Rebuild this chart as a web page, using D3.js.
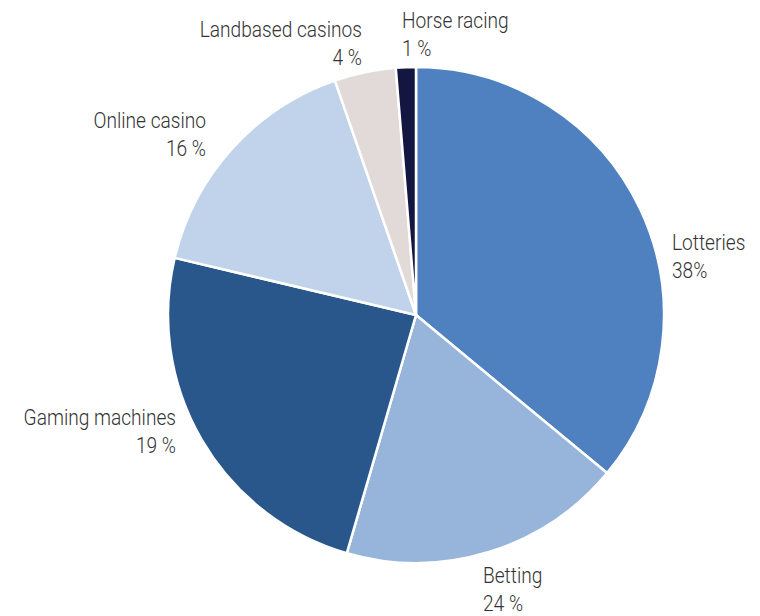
<!DOCTYPE html>
<html>
<head>
<meta charset="utf-8">
<script src="https://cdn.jsdelivr.net/npm/d3@7"></script>
<style>
  body { margin: 0; background: #fff; }
  text { font-family: Roboto, "Noto Sans", sans-serif; font-weight: 300; fill: #333; }
</style>
</head>
<body>
<svg id="chart" width="760" height="616"></svg>
<script>
// Данные (значения по площади секторов, подписи как на исходнике)
const categories = ['Lotteries', 'Betting', 'Gaming machines', 'Online casino', 'Landbased casinos', 'Horse racing'];
const values = [36, 18.5, 24.2, 16, 4, 1.3];
const valueLabels = ['38%', '24 %', '19 %', '16 %', '4 %', '1 %'];
const colors = ['#4f81c1', '#97b4da', '#29568b', '#c0d3ea', '#e2dad8', '#131640'];

// Положение подписей (x, базовая линия первой строки, выравнивание)
const labelLayout = [
    { x: 672, y: 250, anchor: 'start' },
    { x: 483, y: 583, anchor: 'start' },
    { x: 176, y: 425, anchor: 'end' },
    { x: 206, y: 128, anchor: 'end' },
    { x: 362, y: 37, anchor: 'end' },
    { x: 402, y: 28, anchor: 'start' }
];

const cx = 416, cy = 315, radius = 248;
const svg = d3.select('#chart');
const g = svg.append('g').attr('transform', `translate(${cx},${cy})`);

const pie = d3.pie().sort(null).value(d => d.value);
const arc = d3.arc().innerRadius(0).outerRadius(radius);

const data = categories.map((c, i) => ({ name: c, value: values[i], label: valueLabels[i], color: colors[i] }));

g.selectAll('path')
    .data(pie(data))
    .enter()
    .append('path')
    .attr('d', arc)
    .attr('fill', d => d.data.color)
    .attr('stroke', '#fff')
    .attr('stroke-width', 2.5)
    .attr('stroke-linejoin', 'round');

// Подписи (узкий шрифт имитируем сжатием по горизонтали)
const labels = svg.selectAll('.label')
    .data(data)
    .enter()
    .append('text')
    .attr('class', 'label')
    .attr('font-size', 22)
    .attr('transform', (d, i) => `translate(${labelLayout[i].x},${labelLayout[i].y}) scale(0.87,1)`)
    .attr('text-anchor', (d, i) => labelLayout[i].anchor);

labels.append('tspan')
    .attr('x', 0)
    .attr('y', 0)
    .text(d => d.name);

labels.append('tspan')
    .attr('x', 0)
    .attr('dy', 28)
    .text(d => d.label);
</script>
</body>
</html>
